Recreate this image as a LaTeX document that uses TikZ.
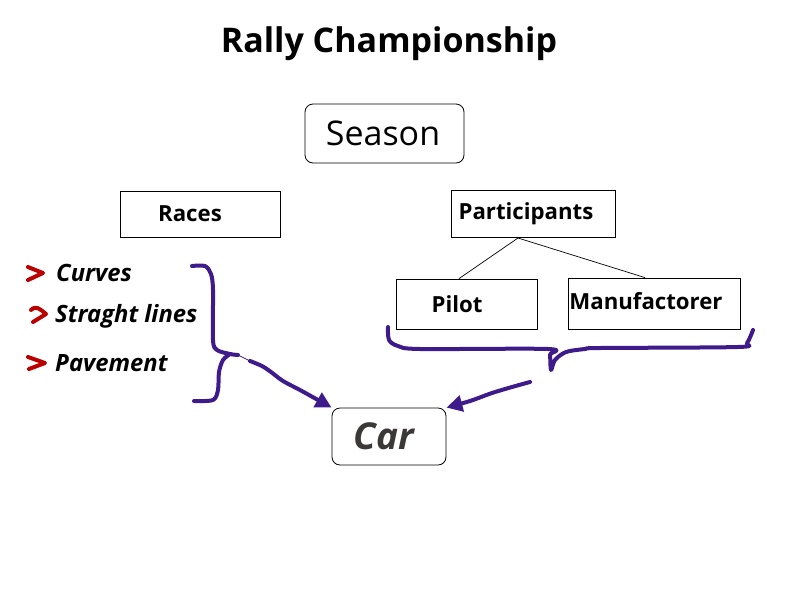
\documentclass[tikz,border=0pt]{standalone}
\usepackage{fontspec}
\setmainfont{Open Sans}
\usetikzlibrary{arrows.meta}
\definecolor{penc}{HTML}{3F1A8A}
\definecolor{redc}{HTML}{BB0000}
\definecolor{cartext}{HTML}{3B3838}
\newcommand{\padr}[1]{\rule{#1}{0pt}}
\begin{document}
\begin{tikzpicture}[x=1pt,y=-1pt,
  sqbox/.style={draw, line width=0.8pt, inner sep=0pt, font=\bfseries\fontsize{22.2}{26}\selectfont},
  rbox/.style={draw, line width=0.8pt, inner sep=0pt, rounded corners=8pt},
  pen/.style={draw=penc, line width=4pt, line cap=round, line join=round},
  marker/.style={draw=redc, line width=4pt, line cap=round, line join=round},
  item/.style={anchor=west, inner sep=0pt, font=\bfseries\itshape\fontsize{23.8}{28}\selectfont},
  tip/.style={-{Triangle[length=16pt,width=16pt]}},
  thinline/.style={draw, line width=0.7pt}
]
\useasboundingbox (0,0) rectangle (800,600);

% title
\node[font=\bfseries\fontsize{34}{40}\selectfont, inner sep=0pt] (title) at (389,44) {Rally Championship};

% boxes
\node[rbox, minimum width=159pt, minimum height=59pt, font=\fontsize{34}{40}\selectfont] (season) at (384.5,133.5) {Season\padr{3pt}};
\node[sqbox, minimum width=160pt, minimum height=46pt] (races) at (200,214) {\raisebox{-1pt}{Races}\padr{20pt}};
\node[sqbox, minimum width=164pt, minimum height=47pt] (part) at (533,213.5) {Participants\padr{14pt}};
\node[sqbox, minimum width=141pt, minimum height=50pt] (pilot) at (466.5,304) {Pilot\padr{19pt}};
\node[sqbox, minimum width=172pt, minimum height=51pt] (manu) at (654,303.5) {\raisebox{4pt}{Manufactorer}\padr{16pt}};
\node[rbox, minimum width=114pt, minimum height=57pt, text=cartext, font=\bfseries\itshape\fontsize{37}{42}\selectfont] (car) at (389,436.5) {\raisebox{-3pt}{Car}\padr{10pt}};

% tree lines
\coordinate (pj) at (518,238);
\draw[thinline] (pj) -- (pilot.north -| 459,0);
\draw[thinline] (pj) -- (manu.north -| 645,0);

% list items
\node[item] (curves) at (56,273) {Curves};
\node[item] (straight) at (55,316) {Straght lines};
\node[item] (pave) at (55,363) {Pavement};

% red markers
\draw[marker] (28,267) -- (43,273) -- (28,280);
\draw[marker] (31,310) .. controls (36,305) and (40,309) .. (46,314) -- (33,322);
\draw[marker] (28,357) -- (45,363) -- (29,369);

% left brace
\coordinate (lb1) at (192,266);
\coordinate (lb2) at (194,401);
\draw[pen] plot[smooth, tension=0.5] coordinates {(lb1) (205,266) (211,274) (213,290) (213,340) (217,350) (230,354) (238,355)};
\draw[pen] plot[smooth, tension=0.5] coordinates {(230,354) (223,360) (219,372) (218,390) (213,400) (lb2)};
\draw[penc, line width=0.8pt] (238,355) -- (250,361);
\draw[pen, tip] plot[smooth, tension=0.5] coordinates {(250,361) (262,366) (271,372) (283,381) (300,390) (318,400) (car.north west)};

% right brace
\draw[pen] plot[smooth, tension=0.5] coordinates {(388,327) (389,340) (398,346) (420,349) (548,349) (550,355) (551,370) (555,360) (566,352) (585,349) (600,348) (738,347) (747,343) (753,330)};
\coordinate (ra) at (530,382);
\draw[pen, tip] plot[smooth, tension=0.5] coordinates {(ra) (512,387) (492,393) (470,401) (car.north east)};
\end{tikzpicture}
\end{document}
